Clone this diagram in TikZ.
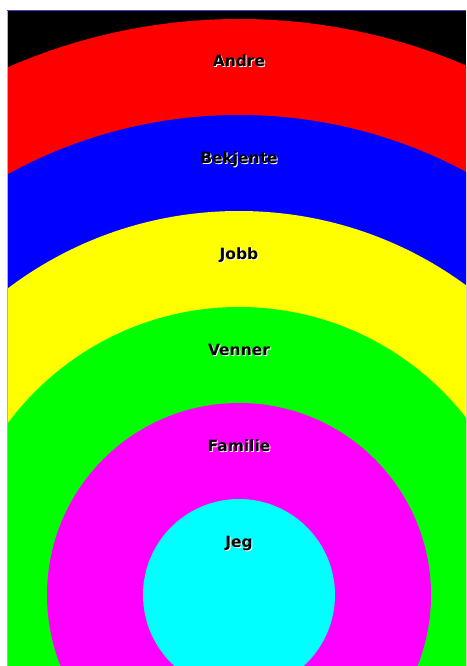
\documentclass[tikz,border=0pt]{standalone}
\usepackage{fontspec}
\newfontfamily\labelfont{DejaVu Sans}
\usepackage{tikz}
\usetikzlibrary{positioning}
\definecolor{ringred}{RGB}{255,0,0}
\definecolor{ringblue}{RGB}{0,0,255}
\definecolor{ringyellow}{RGB}{255,255,0}
\definecolor{ringgreen}{RGB}{0,255,0}
\definecolor{ringmagenta}{RGB}{255,0,255}
\definecolor{ringcyan}{RGB}{0,255,255}

\begin{document}
\begin{tikzpicture}[x=1pt, y=-1pt,
    lbl/.style={font=\labelfont\bfseries\fontsize{15.5}{18}\selectfont, inner sep=0pt, anchor=base},
    lblshadow/.style={lbl, text=white}]

    \fill[white] (0,0) rectangle (466,666);
    \useasboundingbox (0,0) rectangle (466,666);

    \begin{scope}
        \clip (7,10) rectangle (466,666);
        \fill[black] (7,10) rectangle (466,666);
        \fill[ringred]     (239,595) circle[radius=576pt];
        \fill[ringblue]    (239,595) circle[radius=480pt];
        \fill[ringyellow]  (239,595) circle[radius=384pt];
        \fill[ringgreen]   (239,595) circle[radius=288pt];
        \fill[ringmagenta] (239,595) circle[radius=192pt];
        \fill[ringcyan]    (239,595) circle[radius=96pt];
    \end{scope}

    \draw[gray!60, line width=0.8pt] (7,10) -- (7,666);
    \draw[blue!45!gray, line width=0.8pt] (7,10) -- (466,10);

    \node[lblshadow] (andre s)    at (240,68)  {Andre};
    \node[lbl]       (andre)      at (239,67)  {Andre};

    \node[lblshadow] (bekjente s) at (240,164) {Bekjente};
    \node[lbl]       (bekjente)   at (239,163) {Bekjente};

    \node[lblshadow] (jobb s)     at (240,260) {Jobb};
    \node[lbl]       (jobb)       at (239,259) {Jobb};

    \node[lblshadow] (venner s)   at (240,356) {Venner};
    \node[lbl]       (venner)     at (239,355) {Venner};

    \node[lblshadow] (familie s)  at (240,452) {Familie};
    \node[lbl]       (familie)    at (239,451) {Familie};

    \node[lblshadow] (jeg s)      at (240,548) {Jeg};
    \node[lbl]       (jeg)        at (239,547) {Jeg};

\end{tikzpicture}
\end{document}
